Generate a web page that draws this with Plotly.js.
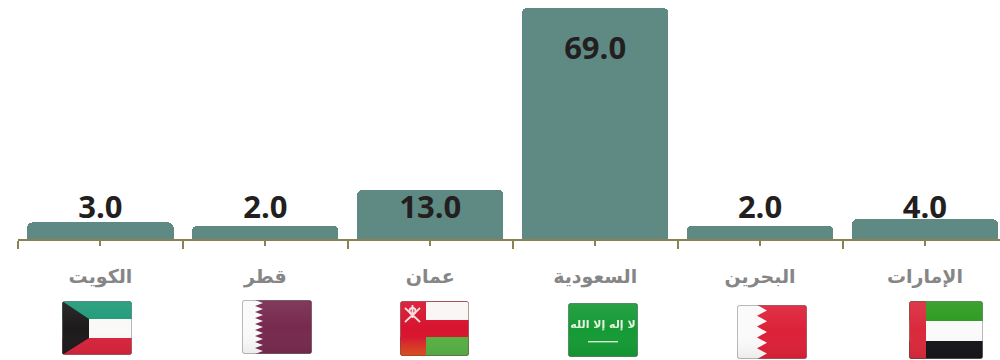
<!DOCTYPE html>
<html><head><meta charset="utf-8">
<script src="https://cdn.plot.ly/plotly-3.0.1.min.js"></script>
<style>html,body{margin:0;padding:0;background:#fff}</style></head>
<body><div id="chart" style="width:1000px;height:360px"></div>
<script>
const categories = ["الكويت","قطر","عمان","السعودية","البحرين","الإمارات"];
const values = [3, 2, 13, 69, 2, 4];
const flagKeys = ["kw","qa","om","sa","bh","ae"];

const axisFloor = -2.08;   // the value axis of the original does not start at zero
const barBase = axisFloor - 4; // below the clip edge, so only the top corners show rounded
const indices = categories.map((_, i) => i);

function wrap(w, h, body) {
  const svg = `<svg xmlns="http://www.w3.org/2000/svg" width="${w*3}" height="${h*3}" viewBox="0 0 ${w} ${h}">
<defs><clipPath id="c"><rect x=".3" y=".3" width="${w-.6}" height="${h-.6}" rx="2.5"/></clipPath>
<linearGradient id="g" x1="0" y1="0" x2="0" y2="1"><stop offset="0" stop-color="#fff" stop-opacity=".08"/><stop offset=".5" stop-color="#fff" stop-opacity="0"/><stop offset="1" stop-color="#000" stop-opacity=".06"/></linearGradient>
<linearGradient id="o" x1="0" y1="0" x2="0" y2="1"><stop offset="0" stop-color="#d8142f"/><stop offset="1" stop-color="#e2571f"/></linearGradient>
<filter id="b"><feGaussianBlur stdDeviation=".7"/></filter></defs>
<g clip-path="url(#c)">${body}<rect width="${w}" height="${h}" fill="url(#g)"/></g>
<rect x=".4" y=".4" width="${w-.8}" height="${h-.8}" rx="2.5" fill="none" stroke="#444" stroke-opacity=".5" stroke-width=".8"/></svg>`;
  return "data:image/svg+xml;charset=utf-8," + encodeURIComponent(svg);
}
function serrated(w, h, x0, x1, n, fill) {
  let p = `M${x0},0`;
  const s = h / n;
  for (let i = 0; i < n; i++) p += ` L${x1},${(i+.5)*s} L${x0},${(i+1)*s}`;
  return `<path d="${p} L${w},${h} L${w},0 Z" fill="${fill}"/>`;
}
const flags = {
  kw: wrap(70,54,`<rect width="70" height="18" fill="#1f9a78"/><rect y="18" width="70" height="19" fill="#fbf8f8"/><rect y="37" width="70" height="17" fill="#d8243c"/><path d="M0,0 L27,18 L27,37 L0,54 Z" fill="#1c1a1b"/>`),
  qa: wrap(70,54,`<rect width="70" height="54" fill="#fafafa"/>`+serrated(70,54,13,21,9,"#772a4e")),
  om: wrap(69,55,`<rect width="69" height="55" fill="#d8142f"/><rect x="26" y="1" width="43" height="18" fill="#fbf6f6"/><rect x="26" y="36" width="43" height="19" fill="#58b044"/><rect y="36" width="26" height="19" fill="url(#o)"/><g stroke="#f8dcdc" stroke-width="1.8" fill="none"><path d="M5,21 L20,7 M5,7 L20,21 M12.5,4 V17"/><circle cx="12.5" cy="10" r="3"/></g>`),
  sa: wrap(70,54,`<rect width="70" height="54" fill="#159a35"/><text x="35" y="25" text-anchor="middle" font-family="DejaVu Sans" font-size="11" font-weight="bold" fill="#e6f3df" filter="url(#b)">لا إله إلا الله</text><rect x="20" y="38" width="30" height="1.4" fill="#d8efd0"/>`),
  bh: wrap(70,54,`<rect width="70" height="54" fill="#fafafa"/>`+serrated(70,54,20,30,5,"#dc2138")),
  ae: wrap(74,58,`<rect width="74" height="20" fill="#2c9a1f"/><rect y="20" width="74" height="20" fill="#fafafa"/><rect y="40" width="74" height="18" fill="#16161a"/><rect width="17" height="58" fill="#d92a3c"/>`)
};
// flag boxes in page pixels: left, top, width, height
const flagBoxes = {kw:[62,301,70,54],qa:[242,300,70,54],om:[400,301,69,55],sa:[568,303,70,54],bh:[737,305,70,54],ae:[909,301,74,58]};

const ML = 18, MB = 121, W = 1000, H = 360;
const PW = W - ML, PH = H - MB;
const images = flagKeys.map(k => {
  const [l,t,w,h] = flagBoxes[k];
  return {source: flags[k], xref:"paper", yref:"paper", x:(l-ML)/PW, y:(PH-t)/PH, sizex:w/PW, sizey:h/PH,
          xanchor:"left", yanchor:"top", sizing:"stretch", layer:"above"};
});

const olive = "#8b8153";
const bars = {
  type:"bar", x:indices, y:values.map(v => v - barBase), base:barBase, width:0.887,
  marker:{color:"#5f8a84", cornerradius:5, line:{width:0}}, hoverinfo:"skip"
};
const labels = {
  type:"scatter", mode:"text", x:indices, y:values.map(v => Math.max(6.8, v - 13.2)),
  text:values.map(v => v.toFixed(1)), textposition:"middle center",
  textfont:{family:"'Open Sans', sans-serif", size:31, weight:700, color:"#231f20"},
  hoverinfo:"skip", cliponaxis:false
};
Plotly.newPlot("chart",[bars,labels],{
  width:W, height:H, margin:{l:ML,r:0,t:0,b:MB,pad:0}, showlegend:false,
  paper_bgcolor:"#fff", plot_bgcolor:"#fff", bargap:0, images,
  xaxis:{type:"linear", range:[-0.5,-0.5+PW/164.9], tickmode:"array", tickvals:indices, ticktext:categories,
    ticks:"outside", ticklen:5, tickwidth:2, tickcolor:olive, showgrid:false, zeroline:false,
    showline:true, linecolor:olive, linewidth:2, ticklabelstandoff:14,
    tickfont:{family:"'DejaVu Sans', sans-serif", size:19, weight:700, color:"#868686"},
    minor:{tickmode:"array", tickvals:[-0.5,0.5,1.5,2.5,3.5,4.5], ticks:"outside", ticklen:8, tickwidth:2, tickcolor:olive, showgrid:false}},
  yaxis:{visible:false, range:[axisFloor,71.46], fixedrange:true}
},{displayModeBar:false,staticPlot:true});
</script></body></html>
